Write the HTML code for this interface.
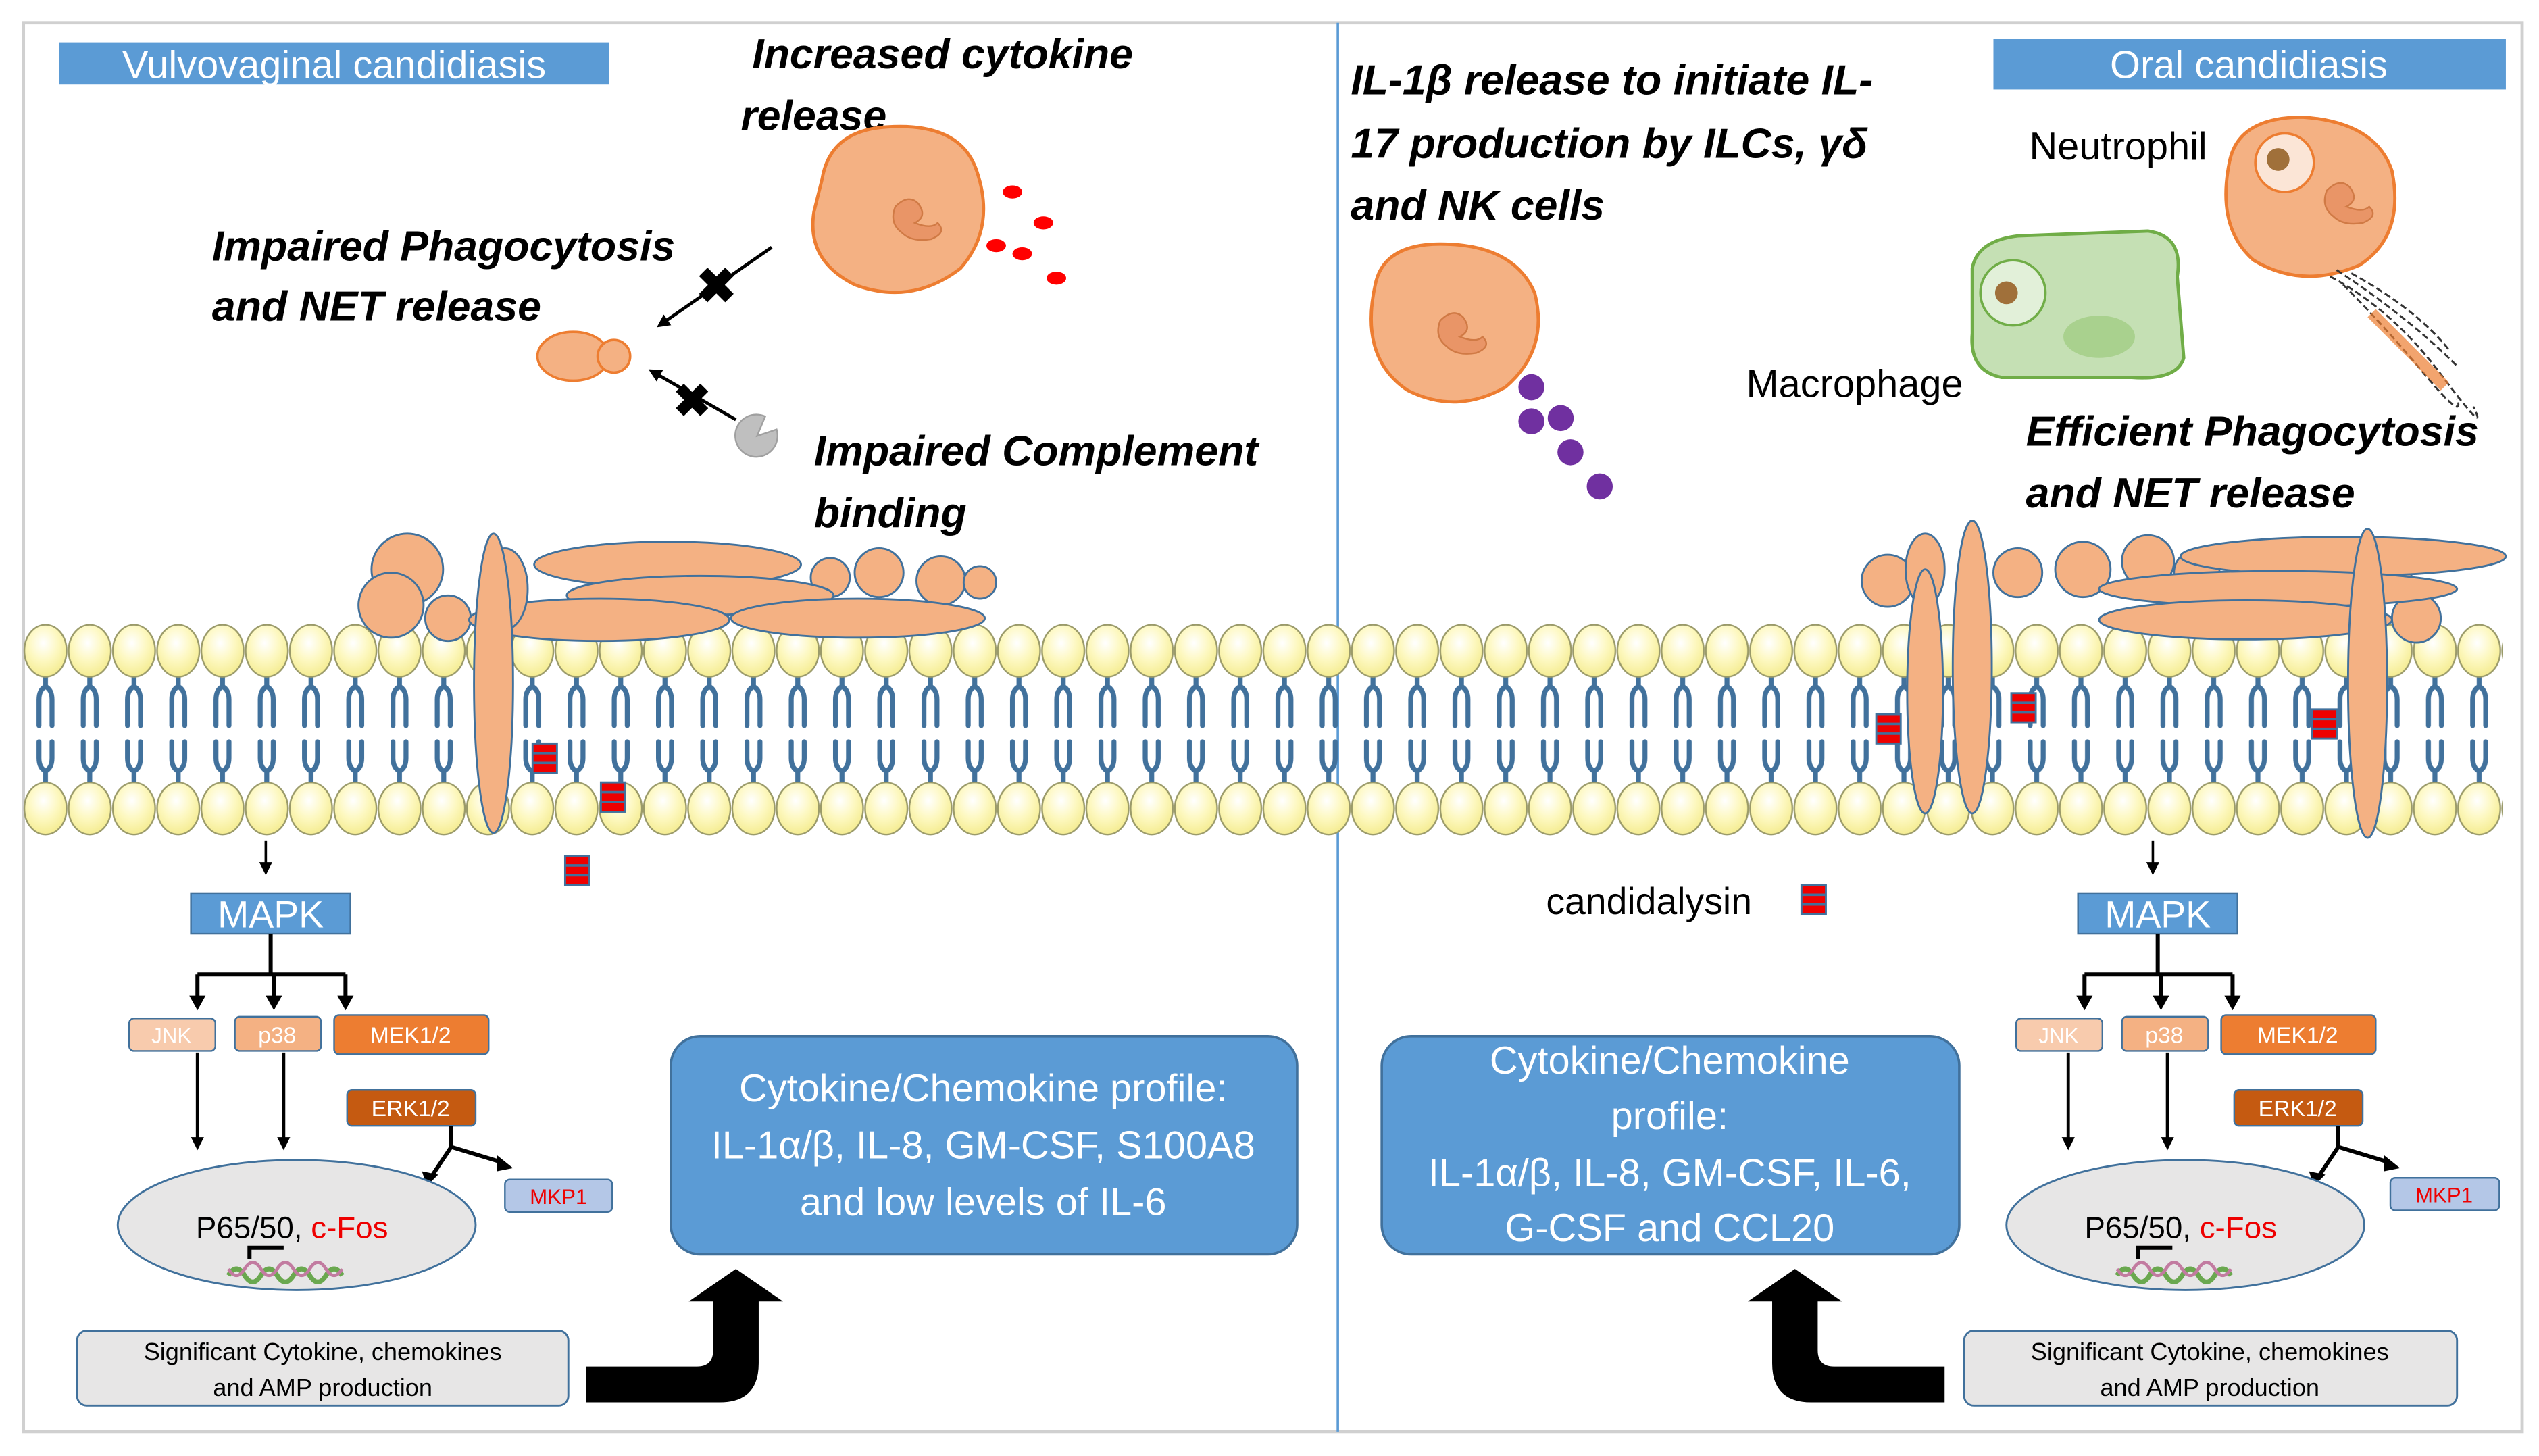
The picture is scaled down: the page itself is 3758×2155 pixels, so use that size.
<!DOCTYPE html>
<html><head><meta charset="utf-8">
<style>
html,body{margin:0;padding:0;background:#fff;}
svg{display:block;}
text{font-family:"Liberation Sans",sans-serif;}
.bi{font-weight:bold;font-style:italic;font-size:26px;fill:#000;}
</style></head>
<body>
<svg width="3758" height="2155" viewBox="0 0 1560 895" xmlns="http://www.w3.org/2000/svg">
<defs>
<radialGradient id="hg" cx="0.45" cy="0.35" r="0.7">
<stop offset="0" stop-color="#ffffff"/><stop offset="0.5" stop-color="#fdf8c0"/><stop offset="1" stop-color="#f3ea8a"/>
</radialGradient>
<pattern id="mem" x="14" y="380" width="27.2" height="135" patternUnits="userSpaceOnUse">
<g stroke="#41719c" stroke-width="3" fill="none" stroke-linecap="round">
<path d="M13.6 34 V42 M13.6 42 Q9.6 44 9.6 50 V66 M13.6 42 Q17.6 44 17.6 50 V66"/>
<path d="M13.6 102 V94 M13.6 94 Q9.6 92 9.6 86 V76 M13.6 94 Q17.6 92 17.6 86 V76"/>
</g>
<ellipse cx="13.6" cy="20" rx="13" ry="16" fill="url(#hg)" stroke="#9a9a6a" stroke-width="1"/>
<ellipse cx="13.6" cy="117" rx="13" ry="16" fill="url(#hg)" stroke="#9a9a6a" stroke-width="1"/>
</pattern>
<marker id="ar" markerWidth="8" markerHeight="8" refX="6" refY="4" orient="auto" markerUnits="userSpaceOnUse">
<path d="M0 0 L8 4 L0 8 z" fill="#000"/></marker>
<g id="cl"><rect x="0" y="0" width="15" height="18" fill="#e00" stroke="#41719c" stroke-width="1.2"/><line x1="0" y1="6" x2="15" y2="6" stroke="#41719c" stroke-width="1.5"/><line x1="0" y1="12" x2="15" y2="12" stroke="#41719c" stroke-width="1.5"/></g>
<g id="nuc" fill="#f4b183" stroke="#ed7d31" stroke-width="2">
<path d="M-10 -8 q8 -8 14 -2 q6 8 -2 12 q10 4 14 0 q6 6 -4 10 q-12 2 -18 -4 q-8 -6 -4 -16z" fill="#e99567" stroke="#d07a45" stroke-width="1"/>
</g>
</defs>

<rect x="14" y="14" width="1536" height="866" fill="#fff" stroke="#d0d0d0" stroke-width="2"/>
<line x1="822" y1="14" x2="822" y2="880" stroke="#5b9bd5" stroke-width="1.5"/>

<!-- titles -->
<rect x="36" y="26" width="338" height="26" fill="#5b9bd5"/>
<text x="205" y="48" font-size="24" fill="#fff" text-anchor="middle">Vulvovaginal candidiasis</text>
<rect x="1225" y="24" width="315" height="31" fill="#5b9bd5"/>
<text x="1382" y="48" font-size="24" fill="#fff" text-anchor="middle">Oral candidiasis</text>

<!-- left texts -->
<text class="bi" x="462" y="42">Increased cytokine</text>
<text class="bi" x="455" y="80">release</text>
<text class="bi" x="130" y="160">Impaired Phagocytosis</text>
<text class="bi" x="130" y="197">and NET release</text>
<text class="bi" x="500" y="286">Impaired Complement</text>
<text class="bi" x="500" y="324">binding</text>

<!-- right texts -->
<text class="bi" x="830" y="58">IL-1β release to initiate IL-</text>
<text class="bi" x="830" y="97">17 production by ILCs, γδ</text>
<text class="bi" x="830" y="135">and NK cells</text>
<text x="1247" y="98" font-size="24">Neutrophil</text>
<text x="1073" y="244" font-size="24">Macrophage</text>
<text class="bi" x="1245" y="274">Efficient Phagocytosis</text>
<text class="bi" x="1245" y="312">and NET release</text>

<!-- left cell -->
<path d="M505 110 Q510 80 545 78 Q590 75 600 105 Q612 140 590 165 Q560 188 525 175 Q495 160 500 130z" fill="#f4b183" stroke="#ed7d31" stroke-width="2"/>
<g transform="translate(560,135)"><use href="#nuc"/></g>
<g fill="#f00"><ellipse cx="622" cy="118" rx="6" ry="4"/><ellipse cx="641" cy="137" rx="6" ry="4"/><ellipse cx="612" cy="151" rx="6" ry="4"/><ellipse cx="628" cy="156" rx="6" ry="4"/><ellipse cx="649" cy="171" rx="6" ry="4"/></g>
<!-- yeast -->
<ellipse cx="352" cy="219" rx="22" ry="15" fill="#f4b183" stroke="#ed7d31" stroke-width="1.5"/>
<circle cx="377" cy="219" r="10" fill="#f4b183" stroke="#ed7d31" stroke-width="1.5"/>
<!-- arrows with X -->
<line x1="474" y1="152" x2="405" y2="200" stroke="#000" stroke-width="2" marker-end="url(#ar)"/>
<text x="440" y="186" font-size="30" font-weight="bold" text-anchor="middle">✖</text>
<line x1="452" y1="258" x2="400" y2="228" stroke="#000" stroke-width="2" marker-end="url(#ar)"/>
<text x="425" y="256" font-size="28" font-weight="bold" text-anchor="middle">✖</text>
<path d="M465 268 L477 264 A13 13 0 1 1 470 256 z" fill="#bfbfbf" stroke="#a0a0a0"/>

<!-- right cell -->
<path d="M845 175 Q850 150 885 150 Q930 150 943 180 Q952 215 925 238 Q895 255 865 240 Q835 220 845 175z" fill="#f4b183" stroke="#ed7d31" stroke-width="2"/>
<g transform="translate(895,205)"><use href="#nuc"/></g>
<g fill="#7030a0"><circle cx="941" cy="238" r="8"/><circle cx="941" cy="259" r="8"/><circle cx="959" cy="257" r="8"/><circle cx="965" cy="278" r="8"/><circle cx="983" cy="299" r="8"/></g>
<!-- macrophage -->
<path d="M1212 165 Q1215 148 1240 145 L1320 142 Q1342 145 1338 170 L1342 220 Q1338 234 1310 232 L1230 232 Q1210 228 1212 205z" fill="#c5e0b4" stroke="#70ad47" stroke-width="2"/>
<circle cx="1237" cy="180" r="20" fill="#e2f0d9" stroke="#70ad47" stroke-width="1.5"/>
<circle cx="1233" cy="180" r="7" fill="#a0703a"/>
<ellipse cx="1290" cy="207" rx="22" ry="13" fill="#a9d18e"/>
<!-- neutrophil -->
<path d="M1370 100 Q1375 72 1415 72 Q1460 75 1470 105 Q1478 145 1450 163 Q1415 178 1385 160 Q1362 140 1370 100z" fill="#f4b183" stroke="#ed7d31" stroke-width="2"/>
<circle cx="1404" cy="100" r="18" fill="#fbe5d6" stroke="#ed7d31" stroke-width="1.5"/>
<circle cx="1400" cy="98" r="7" fill="#a0703a"/>
<g transform="translate(1440,125)"><use href="#nuc"/></g>
<g stroke="#333" stroke-width="1.2" fill="none" stroke-dasharray="4 2">
<path d="M1432 170 Q1470 190 1500 230 T1520 250"/><path d="M1436 166 Q1480 195 1510 225"/><path d="M1440 175 Q1465 200 1490 230 T1510 245"/><path d="M1445 168 Q1485 190 1505 215"/>
</g>
<path d="M1460 190 L1505 235 L1500 240 L1455 195z" fill="#ed7d31" opacity="0.7"/>

<!-- membrane -->
<rect x="14" y="380" width="1524" height="135" fill="url(#mem)"/>

<!-- left proteins -->
<g fill="#f4b183" stroke="#41719c" stroke-width="1.2">
<circle cx="250" cy="350" r="22"/><circle cx="240" cy="372" r="20"/><circle cx="275" cy="380" r="14"/>
<circle cx="540" cy="352" r="15"/><circle cx="578" cy="357" r="15"/><circle cx="602" cy="358" r="10"/><circle cx="510" cy="355" r="12"/>
<ellipse cx="410" cy="347" rx="82" ry="14"/>
<ellipse cx="430" cy="366" rx="82" ry="12"/>
<ellipse cx="368" cy="381" rx="80" ry="13"/>
<ellipse cx="527" cy="380" rx="78" ry="12"/>
<ellipse cx="310" cy="362" rx="14" ry="25"/>
<ellipse cx="303" cy="420" rx="12" ry="92"/>
</g>
<!-- right proteins -->
<g fill="#f4b183" stroke="#41719c" stroke-width="1.2">
<circle cx="1160" cy="357" r="16"/><circle cx="1240" cy="352" r="15"/><circle cx="1280" cy="350" r="17"/><circle cx="1320" cy="345" r="16"/><circle cx="1350" cy="352" r="14"/>
<circle cx="1485" cy="380" r="15"/><circle cx="1470" cy="355" r="12"/>
<ellipse cx="1440" cy="342" rx="100" ry="12"/>
<ellipse cx="1400" cy="362" rx="110" ry="11"/>
<ellipse cx="1380" cy="381" rx="90" ry="12"/>
<ellipse cx="1183" cy="350" rx="12" ry="22"/>
<ellipse cx="1183" cy="425" rx="11" ry="75"/>
<ellipse cx="1212" cy="410" rx="12" ry="90"/>
<ellipse cx="1455" cy="420" rx="12" ry="95"/>
</g>
<!-- candidalysin -->
<use href="#cl" x="327" y="457"/><use href="#cl" x="369" y="481"/><use href="#cl" x="347" y="526"/>
<use href="#cl" x="1153" y="439"/><use href="#cl" x="1236" y="426"/><use href="#cl" x="1421" y="436"/>
<use href="#cl" x="1107" y="544"/>
<text x="950" y="562" font-size="23">candidalysin</text>

<!-- LEFT MAPK -->
<g id="mapkL">
<line x1="163" y1="517" x2="163" y2="536" stroke="#000" stroke-width="1.5" marker-end="url(#ar)"/>
<rect x="117" y="549" width="98" height="25" fill="#5b9bd5" stroke="#41719c"/>
<text x="166" y="570" font-size="23" fill="#fff" text-anchor="middle">MAPK</text>
<path d="M166 574 V599 M121 599 H212 M121 599 V617 M168 599 V617 M212 599 V617" stroke="#000" stroke-width="2.5" fill="none"/>
<path d="M116 612 h10 l-5 9z M163 612 h10 l-5 9z M207 612 h10 l-5 9z" fill="#000"/>
<rect x="79" y="626" width="53" height="20" rx="3" fill="#f8cbad" stroke="#41719c"/>
<text x="105" y="641" font-size="13" fill="#fff" text-anchor="middle">JNK</text>
<rect x="144" y="625" width="53" height="21" rx="3" fill="#f4b183" stroke="#41719c"/>
<text x="170" y="641" font-size="14" fill="#fff" text-anchor="middle">p38</text>
<rect x="205" y="624" width="95" height="24" rx="3" fill="#ed7d31" stroke="#41719c"/>
<text x="252" y="641" font-size="14" fill="#fff" text-anchor="middle">MEK1/2</text>
<rect x="213" y="670" width="79" height="22" rx="3" fill="#c55a11" stroke="#41719c"/>
<text x="252" y="686" font-size="14" fill="#fff" text-anchor="middle">ERK1/2</text>
<line x1="121" y1="647" x2="121" y2="705" stroke="#000" stroke-width="2" marker-end="url(#ar)"/>
<line x1="174" y1="647" x2="174" y2="705" stroke="#000" stroke-width="2" marker-end="url(#ar)"/>
<path d="M277 692 V705 L265 723 M277 705 L310 715" stroke="#000" stroke-width="2.5" fill="none"/>
<path d="M259 720 l10 2 -7 7z M305 710 l10 8 -10 2z" fill="#000"/>
<rect x="310" y="725" width="66" height="20" rx="3" fill="#b4c7e7" stroke="#41719c"/>
<text x="343" y="740" font-size="13" fill="#e00" text-anchor="middle">MKP1</text>
<ellipse cx="182" cy="753" rx="110" ry="40" fill="#e7e6e6" stroke="#41719c" stroke-width="1.2"/>
<text x="120" y="761" font-size="19">P65/50, <tspan fill="#e00">c-Fos</tspan></text>
<path d="M153 774 V767 H174" stroke="#000" stroke-width="2.5" fill="none"/>
<path d="M140 784 q5 -8 10 0 t10 0 t10 0 t10 0 t10 0 t10 0 t10 0" stroke="#6aa84f" stroke-width="3" fill="none"/>
<path d="M140 780 q5 8 10 0 t10 0 t10 0 t10 0 t10 0 t10 0 t10 0" stroke="#c27ba0" stroke-width="2" fill="none"/>
<rect x="47" y="818" width="302" height="46" rx="6" fill="#e7e6e6" stroke="#41719c" stroke-width="1.2"/>
<text x="198" y="836" font-size="15" text-anchor="middle">Significant Cytokine, chemokines</text>
<text x="198" y="858" font-size="15" text-anchor="middle">and AMP production</text>
</g>
<rect x="412" y="637" width="385" height="134" rx="18" fill="#5b9bd5" stroke="#41719c" stroke-width="1.5"/>
<text x="604" y="677" font-size="24" fill="#fff" text-anchor="middle">Cytokine/Chemokine profile:</text>
<text x="604" y="712" font-size="24" fill="#fff" text-anchor="middle">IL-1α/β, IL-8, GM-CSF, S100A8</text>
<text x="604" y="747" font-size="24" fill="#fff" text-anchor="middle">and low levels of IL-6</text>
<path d="M360 840 H428 Q438 840 438 830 V800 H423 L452 780 L481 800 H466 V838 Q466 862 442 862 H360z" fill="#000"/>

<!-- RIGHT MAPK -->
<g transform="translate(1160,0)">
<line x1="163" y1="517" x2="163" y2="536" stroke="#000" stroke-width="1.5" marker-end="url(#ar)"/>
<rect x="117" y="549" width="98" height="25" fill="#5b9bd5" stroke="#41719c"/>
<text x="166" y="570" font-size="23" fill="#fff" text-anchor="middle">MAPK</text>
<path d="M166 574 V599 M121 599 H212 M121 599 V617 M168 599 V617 M212 599 V617" stroke="#000" stroke-width="2.5" fill="none"/>
<path d="M116 612 h10 l-5 9z M163 612 h10 l-5 9z M207 612 h10 l-5 9z" fill="#000"/>
<rect x="79" y="626" width="53" height="20" rx="3" fill="#f8cbad" stroke="#41719c"/>
<text x="105" y="641" font-size="13" fill="#fff" text-anchor="middle">JNK</text>
<rect x="144" y="625" width="53" height="21" rx="3" fill="#f4b183" stroke="#41719c"/>
<text x="170" y="641" font-size="14" fill="#fff" text-anchor="middle">p38</text>
<rect x="205" y="624" width="95" height="24" rx="3" fill="#ed7d31" stroke="#41719c"/>
<text x="252" y="641" font-size="14" fill="#fff" text-anchor="middle">MEK1/2</text>
<rect x="213" y="670" width="79" height="22" rx="3" fill="#c55a11" stroke="#41719c"/>
<text x="252" y="686" font-size="14" fill="#fff" text-anchor="middle">ERK1/2</text>
<line x1="111" y1="647" x2="111" y2="705" stroke="#000" stroke-width="2" marker-end="url(#ar)"/>
<line x1="172" y1="647" x2="172" y2="705" stroke="#000" stroke-width="2" marker-end="url(#ar)"/>
<path d="M277 692 V705 L265 723 M277 705 L310 715" stroke="#000" stroke-width="2.5" fill="none"/>
<path d="M259 720 l10 2 -7 7z M305 710 l10 8 -10 2z" fill="#000"/>
<rect x="309" y="724" width="67" height="20" rx="3" fill="#b4c7e7" stroke="#41719c"/>
<text x="342" y="739" font-size="13" fill="#e00" text-anchor="middle">MKP1</text>
<ellipse cx="183" cy="753" rx="110" ry="40" fill="#e7e6e6" stroke="#41719c" stroke-width="1.2"/>
<text x="121" y="761" font-size="19">P65/50, <tspan fill="#e00">c-Fos</tspan></text>
<path d="M154 774 V767 H175" stroke="#000" stroke-width="2.5" fill="none"/>
<path d="M141 784 q5 -8 10 0 t10 0 t10 0 t10 0 t10 0 t10 0 t10 0" stroke="#6aa84f" stroke-width="3" fill="none"/>
<path d="M141 780 q5 8 10 0 t10 0 t10 0 t10 0 t10 0 t10 0 t10 0" stroke="#c27ba0" stroke-width="2" fill="none"/>
<rect x="47" y="818" width="303" height="46" rx="6" fill="#e7e6e6" stroke="#41719c" stroke-width="1.2"/>
<text x="198" y="836" font-size="15" text-anchor="middle">Significant Cytokine, chemokines</text>
<text x="198" y="858" font-size="15" text-anchor="middle">and AMP production</text>
</g>
<rect x="849" y="637" width="355" height="134" rx="18" fill="#5b9bd5" stroke="#41719c" stroke-width="1.5"/>
<text x="1026" y="660" font-size="24" fill="#fff" text-anchor="middle">Cytokine/Chemokine</text>
<text x="1026" y="694" font-size="24" fill="#fff" text-anchor="middle">profile:</text>
<text x="1026" y="729" font-size="24" fill="#fff" text-anchor="middle">IL-1α/β, IL-8, GM-CSF, IL-6,</text>
<text x="1026" y="763" font-size="24" fill="#fff" text-anchor="middle">G-CSF and CCL20</text>
<path d="M1195 840 H1127 Q1117 840 1117 830 V800 H1132 L1103 780 L1074 800 H1089 V838 Q1089 862 1113 862 H1195z" fill="#000"/>
</svg>
</body></html>
